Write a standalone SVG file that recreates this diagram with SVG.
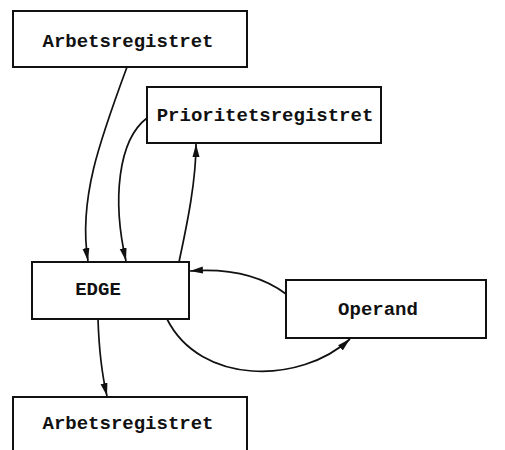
<svg xmlns="http://www.w3.org/2000/svg" width="505" height="450" viewBox="0 0 505 450">
  <style>
    .box { fill: #fff; stroke: #111; stroke-width: 2; }
    .lbl { font-family: "Liberation Mono", "DejaVu Sans Mono", monospace; font-size: 19px; font-weight: bold; fill: #111; text-anchor: middle; dominant-baseline: central; }
    .wire { fill: none; stroke: #111; stroke-width: 1.7; }
  </style>
  <defs>
    <marker id="arrow" markerWidth="14" markerHeight="8" refX="13" refY="4" orient="auto" markerUnits="userSpaceOnUse">
      <path d="M0,0.5 L13,4 L0,7.5 Z" fill="#111"/>
    </marker>
  </defs>
  <rect width="505" height="450" fill="#fff"/>

  <g id="arbetsregistret-top">
    <rect class="box" x="13" y="11" width="234" height="56"/>
    <text class="lbl" x="128" y="42">Arbetsregistret</text>
  </g>
  <g id="prioritetsregistret">
    <rect class="box" x="147" y="87" width="234" height="56"/>
    <text class="lbl" x="265" y="116">Prioritetsregistret</text>
  </g>
  <g id="edge">
    <rect class="box" x="32" y="262" width="157" height="57"/>
    <text class="lbl" x="98" y="290">EDGE</text>
  </g>
  <g id="operand">
    <rect class="box" x="286" y="280" width="200" height="58"/>
    <text class="lbl" x="378" y="310">Operand</text>
  </g>
  <g id="arbetsregistret-bottom">
    <rect class="box" x="13" y="397" width="234" height="56"/>
    <text class="lbl" x="128" y="424">Arbetsregistret</text>
  </g>

  <g id="connectors">
    <path class="wire" d="M127,67 C100,140 78,200 88,261" marker-end="url(#arrow)"/>
    <path class="wire" d="M147,118 C118,140 112,200 126,261" marker-end="url(#arrow)"/>
    <path class="wire" d="M179,262 C188,220 196,180 196,144" marker-end="url(#arrow)"/>
    <path class="wire" d="M286,294 C262,276 232,268 190,271" marker-end="url(#arrow)"/>
    <path class="wire" d="M167,319 C200,385 300,385 350,339" marker-end="url(#arrow)"/>
    <path class="wire" d="M98,319 C99,350 102,375 107,396" marker-end="url(#arrow)"/>
  </g>
</svg>
